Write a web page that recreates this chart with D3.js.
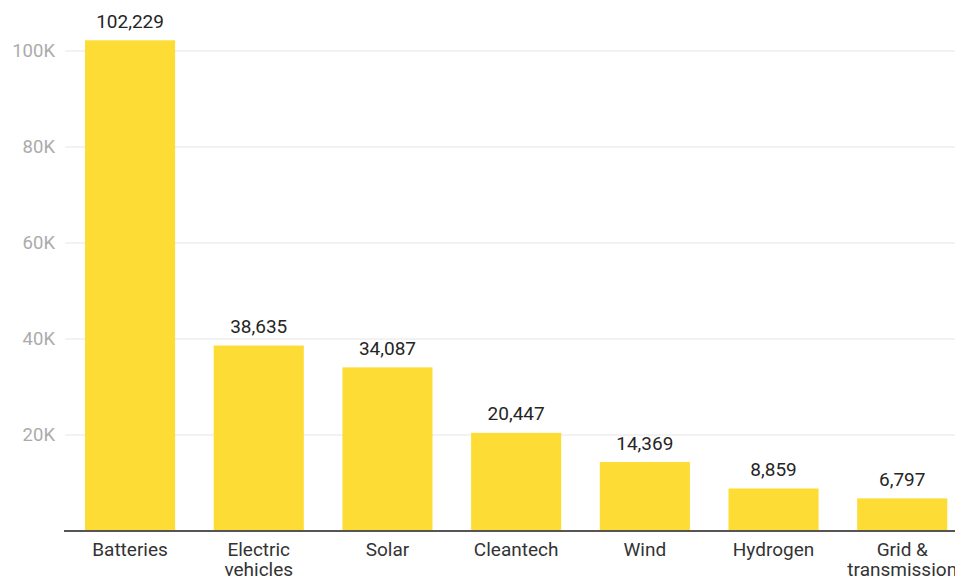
<!DOCTYPE html>
<html>
<head>
<meta charset="utf-8">
<script src="https://cdn.jsdelivr.net/npm/d3@7"></script>
<style>
  html, body { margin: 0; padding: 0; background: #fff; }
  svg { display: block; font-family: Roboto, "Noto Sans", sans-serif; }
</style>
</head>
<body>
<svg id="chart" width="955" height="576"></svg>
<script>
const categories = ["Batteries", "Electric vehicles", "Solar", "Cleantech", "Wind", "Hydrogen", "Grid & transmission"];
const categoryLines = [["Batteries"], ["Electric", "vehicles"], ["Solar"], ["Cleantech"], ["Wind"], ["Hydrogen"], ["Grid &", "transmission"]];
const values = [102229, 38635, 34087, 20447, 14369, 8859, 6797];
const yTicks = [20000, 40000, 60000, 80000, 100000];
const yTickLabels = ["20K", "40K", "60K", "80K", "100K"];

const svg = d3.select("#chart");
const baseY = 531;
const x = d3.scaleBand().domain(categories).range([65.7, 966.6]).paddingInner(0.3).paddingOuter(0.15);
const y = d3.scaleLinear().domain([0, 100000]).range([baseY, 51]);

// gridlines
svg.append("g").selectAll("line").data(yTicks).join("line")
  .attr("x1", 65).attr("x2", 955)
  .attr("y1", d => y(d)).attr("y2", d => y(d))
  .attr("stroke", "#e5e5e5").attr("stroke-width", 1.2);

// y tick labels
svg.append("g").selectAll("text").data(yTicks).join("text")
  .attr("x", 55).attr("y", d => y(d)).attr("dy", "0.35em")
  .attr("text-anchor", "end").attr("font-size", 18.5).attr("fill", "#ababab")
  .text((d, i) => yTickLabels[i]);

// bars
svg.append("g").selectAll("rect").data(values).join("rect")
  .attr("x", (d, i) => x(categories[i]))
  .attr("width", x.bandwidth())
  .attr("y", d => y(d))
  .attr("height", d => baseY - y(d))
  .attr("fill", "#fddc35");

// value labels
svg.append("g").selectAll("text").data(values).join("text")
  .attr("x", (d, i) => x(categories[i]) + x.bandwidth() / 2)
  .attr("y", d => y(d) - 12.5)
  .attr("text-anchor", "middle").attr("font-size", 19).attr("fill", "#252525")
  .text(d => d3.format(",")(d));

// baseline
svg.append("line").attr("x1", 64).attr("x2", 955)
  .attr("y1", baseY).attr("y2", baseY)
  .attr("stroke", "#555").attr("stroke-width", 2);

// category labels
const cat = svg.append("g").selectAll("text").data(categories).join("text")
  .attr("x", d => x(d) + x.bandwidth() / 2)
  .attr("y", 555.5)
  .attr("text-anchor", "middle").attr("font-size", 19).attr("fill", "#333");
cat.each(function(d, i) {
  const t = d3.select(this);
  categoryLines[i].forEach((line, j) => {
    t.append("tspan").attr("x", x(d) + x.bandwidth() / 2).attr("dy", j === 0 ? 0 : 20).text(line);
  });
});
</script>
</body>
</html>
